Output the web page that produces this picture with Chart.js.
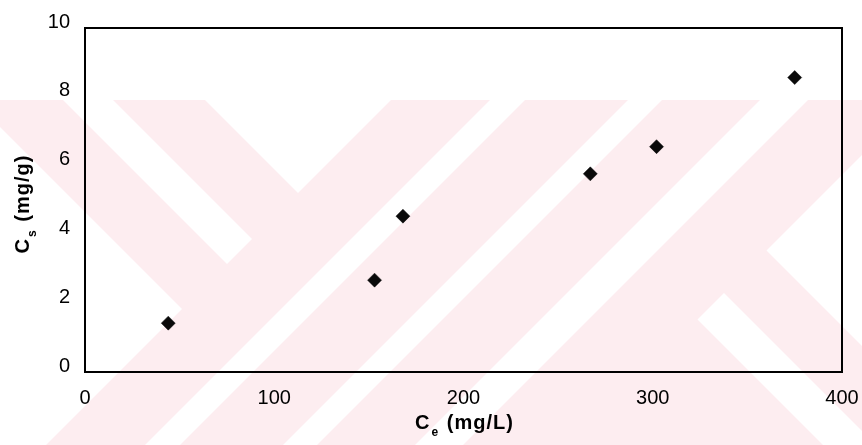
<!DOCTYPE html>
<html>
<head>
<meta charset="utf-8">
<script src="https://cdn.jsdelivr.net/npm/chart.js@4.4.1/dist/chart.umd.min.js"></script>
<style>
  html, body { margin: 0; padding: 0; background: #fff; }
  canvas { display: block; }
</style>
</head>
<body>
<canvas id="chart" width="862" height="445"></canvas>
<script>
(function () {
  'use strict';

  // equilibrium data
  var ceValues = [44, 153, 168, 267, 302, 375];
  var csValues = [1.42, 2.67, 4.53, 5.76, 6.55, 8.56];
  var xTicks = [0, 100, 200, 300, 400];
  var yTicks = [0, 2, 4, 6, 8, 10];
  // [text, isSubscript]
  var xTitle = [['C', false], ['e', true], [' (mg/L)', false]];
  var yTitle = [['C', false], ['s', true], [' (mg/g)', false]];

  var FONT = '"Liberation Sans", Arial, sans-serif';
  var PINK = '#fdedf0';

  // background stripes of the scanned page, in (u = x + y, v = x - y) space
  function bandQuad(ctx, u1, u2, v1, v2) {
    var pts = [[u1, v1], [u2, v1], [u2, v2], [u1, v2]];
    ctx.beginPath();
    pts.forEach(function (p, i) {
      var x = (p[0] + p[1]) / 2, y = (p[0] - p[1]) / 2;
      if (i === 0) ctx.moveTo(x, y); else ctx.lineTo(x, y);
    });
    ctx.closePath();
    ctx.fill();
  }

  var watermark = {
    id: 'watermark',
    beforeDraw: function (chart) {
      var ctx = chart.ctx, W = chart.width, H = chart.height, B = 3000;
      ctx.save();
      ctx.fillStyle = '#fff';
      ctx.fillRect(0, 0, W, H);
      ctx.beginPath();
      ctx.rect(0, 100, W, H - 100);
      ctx.clip();
      ctx.fillStyle = PINK;
      ctx.fillRect(0, 100, W, H - 100);
      ctx.fillStyle = '#fff';
      bandQuad(ctx, -B, 491, -B, -127);
      bandQuad(ctx, -B, 491, -37, 13);
      bandQuad(ctx, -B, 491, 105, B);
      bandQuad(ctx, 590, 625, -B, B);
      bandQuad(ctx, 728, 762, -B, B);
      bandQuad(ctx, 860, 908, -B, B);
      bandQuad(ctx, 1017, B, 378, 431);
      bandQuad(ctx, 1017, B, 516, B);
      ctx.restore();
    }
  };

  function drawTitle(ctx, parts, cx, cy) {
    var big = 'bold 20px ' + FONT;
    var small = 'bold 12px ' + FONT;
    ctx.letterSpacing = '1px';
    var w = 0;
    parts.forEach(function (p) {
      ctx.font = p[1] ? small : big;
      w += ctx.measureText(p[0]).width + (p[1] ? 2 : 0);
    });
    var x = cx - w / 2;
    ctx.textAlign = 'left';
    ctx.textBaseline = 'middle';
    parts.forEach(function (p) {
      ctx.font = p[1] ? small : big;
      ctx.fillText(p[0], x + (p[1] ? 1 : 0), p[1] ? cy + 10 : cy);
      x += ctx.measureText(p[0]).width + (p[1] ? 2 : 0);
    });
  }

  var frame = {
    id: 'frame',
    afterDraw: function (chart) {
      var ctx = chart.ctx, a = chart.chartArea;
      ctx.save();
      ctx.strokeStyle = '#000';
      ctx.lineWidth = 2;
      ctx.strokeRect(a.left, a.top, a.right - a.left, a.bottom - a.top);
      ctx.fillStyle = '#000';
      drawTitle(ctx, xTitle, (a.left + a.right) / 2 + 1, 423);
      ctx.translate(24, (a.top + a.bottom) / 2 + 4);
      ctx.rotate(-Math.PI / 2);
      drawTitle(ctx, yTitle, 0, -1);
      ctx.restore();
    }
  };

  var points = ceValues.map(function (x, i) { return { x: x, y: csValues[i] }; });

  new Chart(document.getElementById('chart'), {
    type: 'scatter',
    data: {
      datasets: [{
        data: points,
        pointStyle: 'rectRot',
        pointRadius: 7,
        pointHoverRadius: 7,
        backgroundColor: '#0a0a0a',
        borderColor: '#0a0a0a',
        borderWidth: 0.5
      }]
    },
    options: {
      responsive: false,
      animation: false,
      events: [],
      layout: { padding: { left: 0, top: 28, right: 20, bottom: 0 } },
      plugins: { legend: { display: false }, tooltip: { enabled: false } },
      scales: {
        x: {
          type: 'linear',
          min: xTicks[0],
          max: xTicks[xTicks.length - 1],
          afterBuildTicks: function (s) { s.ticks = xTicks.map(function (v) { return { value: v }; }); },
          afterFit: function (s) { s.height = 73; s.paddingLeft = 0; s.paddingRight = 0; },
          grid: { display: false, drawTicks: false },
          border: { display: false },
          ticks: { color: '#000', padding: 14, maxRotation: 0, font: { family: FONT, size: 20 } }
        },
        y: {
          type: 'linear',
          min: yTicks[0],
          max: yTicks[yTicks.length - 1],
          afterBuildTicks: function (s) { s.ticks = yTicks.map(function (v) { return { value: v }; }); },
          afterFit: function (s) { s.width = 85; s.paddingTop = 0; s.paddingBottom = 0; },
          grid: { display: false, drawTicks: false },
          border: { display: false },
          ticks: { color: '#000', padding: 15, labelOffset: -6, font: { family: FONT, size: 20 } }
        }
      }
    },
    plugins: [watermark, frame]
  });
})();
</script>
</body>
</html>
